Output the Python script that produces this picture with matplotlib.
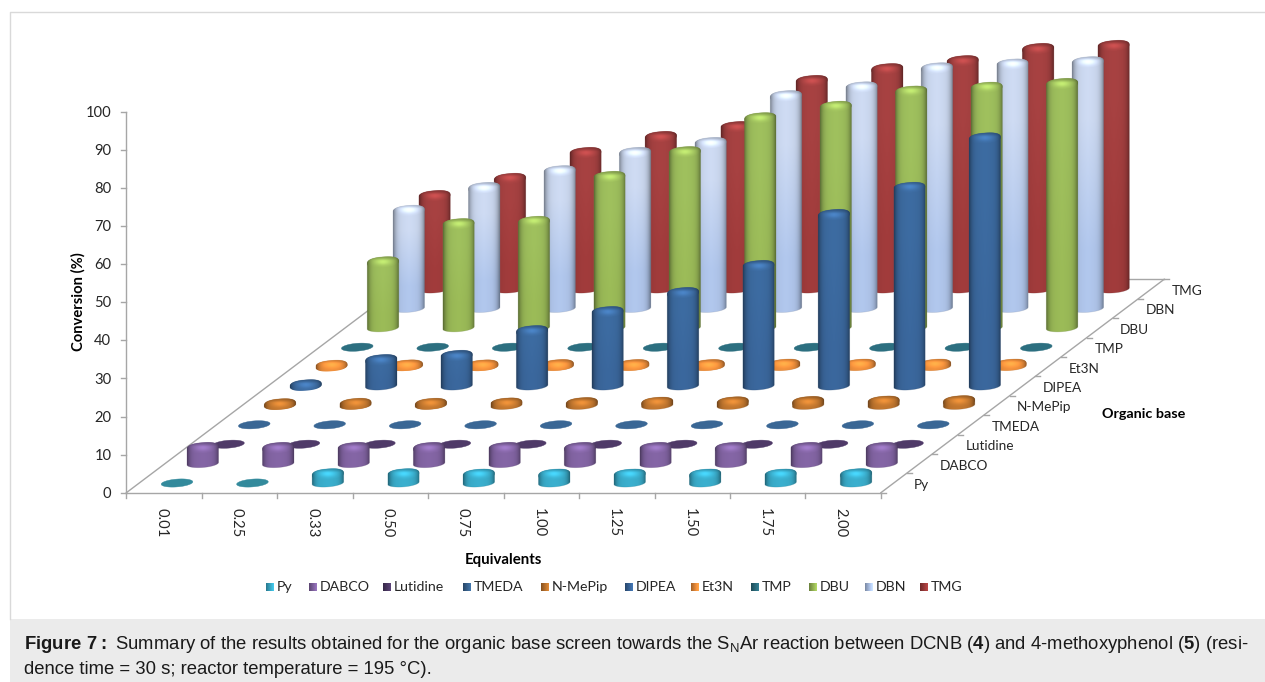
import numpy as np

import matplotlib
matplotlib.use("Agg")
import matplotlib.pyplot as plt
from matplotlib.colors import to_rgb
from matplotlib.patches import Polygon, Rectangle

# conversion (%) per organic base
EQUIVALENTS = ["0.01", "0.25", "0.33", "0.50", "0.75", "1.00", "1.25", "1.50", "1.75", "2.00"]
BASES = ["Py", "DABCO", "Lutidine", "TMEDA", "N-MePip", "DIPEA", "Et3N", "TMP", "DBU", "DBN", "TMG"]

PY = [0.0, 0.0, 2.3, 2.3, 2.2, 2.2, 2.2, 2.2, 2.2, 2.3]
DABCO = [4.1, 4.1, 4.1, 4.1, 4.1, 4.1, 4.1, 4.1, 4.1, 4.1]
LUTIDINE = [0.0, 0.0, 0.0, 0.0, 0.0, 0.0, 0.0, 0.0, 0.0, 0.0]
TMEDA = [0.0, 0.0, 0.0, 0.0, 0.0, 0.0, 0.0, 0.0, 0.0, 0.0]
N_MEPIP = [0.3, 0.4, 0.4, 0.5, 0.6, 0.7, 0.8, 0.9, 1.0, 1.1]
DIPEA = [0.2, 6.8, 7.9, 14.4, 19.4, 24.4, 31.5, 44.9, 52.0, 65.0]
ET3N = [0.2, 0.3, 0.3, 0.4, 0.4, 0.4, 0.5, 0.5, 0.5, 0.5]
TMP = [0.0, 0.0, 0.0, 0.0, 0.0, 0.0, 0.0, 0.0, 0.0, 0.0]
DBU = [17.2, 27.2, 27.8, 39.6, 46.1, 55.0, 58.0, 62.0, 63.0, 64.0]
DBN = [25.6, 31.6, 36.0, 40.8, 43.4, 55.7, 58.0, 63.0, 64.0, 64.6]
TMG = [24.4, 28.9, 35.7, 39.9, 42.5, 54.6, 57.7, 59.8, 63.0, 63.8]
SERIES = [PY, DABCO, LUTIDINE, TMEDA, N_MEPIP, DIPEA, ET3N, TMP, DBU, DBN, TMG]

COLORS_TOP = ["#3bb0cf", "#8566a6", "#4f3a68", "#3a6795", "#c4782f", "#3d6ca2",
              "#f0903c", "#2c6f80", "#a0c15e", "#cfdcf4", "#a84242"]
COLORS_BASE = ["#3bb0cf", "#8566a6", "#4f3a68", "#3a6795", "#c4782f", "#3b689e",
               "#f0903c", "#2c6f80", "#9cbc58", "#b2c8ee", "#a23c3c"]
FLAT_COLORS = ["#338a9c", "#8566a6", "#4f3a68", "#3a6795", "#b0652a", "#33608f",
               "#f0903c", "#2c6f80", "#9cbc58", "#b2c8ee", "#a23c3c"]

Y_TICKS = [0, 10, 20, 30, 40, 50, 60, 70, 80, 90, 100]
LEGEND_TEXT_X = [277, 320, 393.5, 474, 552, 635.5, 701.6, 762, 820, 876, 931]

# oblique projection of (equivalent index, base index, value) to picture pixels
ORIGIN_X, ORIGIN_Y = 177.0, 483.0
STEP_I = 75.45
STEP_J_X, STEP_J_Y = 25.75, -19.4
PX_PER_UNIT = 3.81
RX, RY_BASE, RY_TOP, TILT = 15.8, 3.9, 5.4, 1.2

AXIS_GREY = "#a6a6a6"
TEXT_GREY = "#262626"
FONT = "Lato"

plt.rcParams["font.family"] = FONT
plt.rcParams["mathtext.fontset"] = "custom"
plt.rcParams["mathtext.rm"] = "Liberation Sans"
plt.rcParams["mathtext.bf"] = "Liberation Sans:bold"


def project(i, j, v=0.0):
    x = ORIGIN_X + STEP_I * i + STEP_J_X * j
    y = ORIGIN_Y + STEP_J_Y * j - PX_PER_UNIT * v
    return x, y


def base_xy(cx, cy, t):
    return np.column_stack([cx + RX * np.cos(t), cy + RY_BASE * np.sin(t) - TILT * np.cos(t)])


def top_xy(cx, cy, t):
    # squarer than an ellipse, the bevel rounds the shoulders of the bars
    c, s = np.cos(t), np.sin(t)
    x = np.sign(c) * np.abs(c) ** 0.82
    y = np.sign(s) * np.abs(s) ** 0.82
    return np.column_stack([cx + RX * x, cy + RY_TOP * y - TILT * x])


def body_shade(u):
    return 1 - 0.38 * np.abs(u) ** 5 - 0.05 * np.abs(u)


def _clipped_image(ax, rgb, extent, pts, z, edge=None):
    im = ax.imshow(rgb, extent=extent, aspect="auto", interpolation="bilinear", zorder=z)
    patch = Polygon(pts, closed=True, transform=ax.transData)
    im.set_clip_path(patch)
    if edge is not None:
        ax.add_patch(Polygon(pts, closed=True, facecolor="none", edgecolor=edge,
                             linewidth=0.5, alpha=0.3, zorder=z))


def draw_cylinder(ax, i, j, v, top_color, base_color, z):
    cx, base_y = project(i, j)
    _, top_y = project(i, j, v)
    top_rgb = np.array(to_rgb(top_color))
    base_rgb = np.array(to_rgb(base_color))

    t_front = np.linspace(np.pi, 0, 40)
    t_back = np.linspace(0, -np.pi, 60)
    body = np.vstack([base_xy(cx, base_y, t_front), top_xy(cx, top_y, t_back)])

    u = np.linspace(-1, 1, 64)
    rows = np.stack([top_rgb, base_rgb])
    img = np.clip(rows[:, None, :] * body_shade(u)[None, :, None], 0, 1)
    # first row of the image is the value end of the bar
    _clipped_image(ax, img, (cx - RX, cx + RX, base_y + RY_BASE + 2, top_y - RY_TOP - 2),
                   body, z, base_rgb * 0.7)

    # cap: dark band at the back, soft highlight in the middle, front melts into the body
    n = 48
    xx, yy = np.meshgrid(np.linspace(-1, 1, n), np.linspace(-1, 1, n))
    glow = 1 + 0.24 * np.exp(-(xx ** 2 / 0.30 + (yy + 0.05) ** 2 / 0.22))
    back = 1 - 0.30 * np.clip((-yy - 0.25) / 0.75, 0, 1)
    cap_shade = body_shade(xx) * glow * back
    cap = np.clip(top_rgb[None, None, :] * cap_shade[:, :, None], 0, 1)
    cap_pts = top_xy(cx, top_y, np.linspace(0, 2 * np.pi, 80))
    _clipped_image(ax, cap, (cx - RX, cx + RX, top_y + RY_TOP + TILT, top_y - RY_TOP - TILT),
                   cap_pts, z + 0.1)


def draw_disc(ax, i, j, color, z):
    cx, cy = project(i, j)
    pts = base_xy(cx, cy, np.linspace(0, 2 * np.pi, 60))
    ax.add_patch(Polygon(pts, closed=True, facecolor=color, edgecolor=color,
                         linewidth=0.3, zorder=z))


def draw_frame(ax):
    n_i, n_j = len(EQUIVALENTS), len(BASES)
    # floor corners sit half a slot outside the first and last bars
    fl = project(-0.5, -0.5)
    fr = project(n_i - 0.5, -0.5)
    br = project(n_i - 0.5, n_j - 0.5)
    bl = project(-0.5, n_j - 0.5)
    for a, b in [(fl, fr), (fr, br), (br, bl), (bl, fl)]:
        ax.plot([a[0], b[0]], [a[1], b[1]], color=AXIS_GREY, lw=1.0, zorder=1)

    # value axis
    y0 = fl[1]
    ax.plot([fl[0], fl[0]], [y0, y0 - 100 * PX_PER_UNIT], color=AXIS_GREY, lw=1.0, zorder=1)
    for tick in Y_TICKS:
        y = y0 - tick * PX_PER_UNIT
        ax.plot([fl[0] - 5.5, fl[0]], [y, y], color=AXIS_GREY, lw=1.0, zorder=1)
        ax.text(fl[0] - 15, y + 1.2, str(tick), ha="right", va="center",
                fontsize=10.6, color=TEXT_GREY)

    # equivalents axis
    for i in range(n_i + 1):
        x, y = project(i - 0.5, -0.5)
        ax.plot([x, x], [y, y + 5], color=AXIS_GREY, lw=1.0, zorder=1)
    for i, label in enumerate(EQUIVALENTS):
        x, y = project(i, -0.5)
        ax.text(x - 3, y + 15, label, rotation=270, ha="center", va="top",
                fontsize=10.6, color=TEXT_GREY)

    # base axis
    for j in range(n_j + 1):
        x, y = project(n_i - 0.5, j - 0.5)
        ax.plot([x, x + 5], [y, y], color=AXIS_GREY, lw=1.0, zorder=1)
    for j, label in enumerate(BASES):
        x, y = project(n_i - 1, j)
        ax.text(x + 58, y + 2, label, ha="left", va="center", fontsize=9.8, color=TEXT_GREY)


def draw_legend(ax):
    y = 587
    for name, text_x, base in zip(BASES, LEGEND_TEXT_X, COLORS_BASE):
        u = np.linspace(0, 1, 9)
        img = np.array(to_rgb(base))[None, None, :] * (0.7 + 0.45 * u)[None, :, None]
        ax.imshow(np.clip(img, 0, 1), extent=(text_x - 11, text_x - 3, y + 4, y - 4),
                  aspect="auto", interpolation="bilinear", zorder=5)
        ax.text(text_x, y, name, ha="left", va="center", fontsize=10.2, color=TEXT_GREY)


def main():
    fig = plt.figure(figsize=(12.65, 6.82), dpi=100)
    ax = fig.add_axes([0, 0, 1, 1])

    # page furniture around the chart
    ax.add_patch(Rectangle((10, 619), 1255, 63, facecolor="#ebebeb", edgecolor="none", zorder=0))
    ax.plot([10, 10, 1265], [619, 12, 12], color="#d9d9d9", lw=1.0, zorder=0.5)

    draw_frame(ax)

    z = 2.0
    for j in range(len(BASES) - 1, -1, -1):
        for i, v in enumerate(SERIES[j]):
            if v < 0.15:
                draw_disc(ax, i, j, FLAT_COLORS[j], z)
            else:
                draw_cylinder(ax, i, j, v, COLORS_TOP[j], COLORS_BASE[j], z)
            z += 0.2

    draw_legend(ax)

    ax.text(78, 302, "Conversion (%)", rotation=90, ha="center", va="center",
            fontsize=10.6, fontweight="bold", color="black")
    ax.text(503, 560, "Equivalents", ha="center", va="center",
            fontsize=10.8, fontweight="bold", color="black")
    ax.text(1102, 414, "Organic base", ha="left", va="center",
            fontsize=10.4, fontweight="bold", color="black")

    ax.text(24, 644.5, r"$\mathbf{Figure\ 7:}$ Summary of the results obtained for the organic base "
            r"screen towards the S$_{\mathrm{N}}$Ar reaction between DCNB ($\mathbf{4}$) and "
            r"4-methoxyphenol ($\mathbf{5}$) (resi-",
            ha="left", va="center", fontsize=13.35, family="Liberation Sans", color="#1a1a1a")
    ax.text(24, 669.5, "dence time = 30 s; reactor temperature = 195 °C).",
            ha="left", va="center", fontsize=13.35, family="Liberation Sans", color="#1a1a1a")

    ax.set_xlim(0, 1265)
    ax.set_ylim(682, 0)
    ax.axis("off")
    fig.savefig("out.png", dpi=100)
    plt.close(fig)


if __name__ == "__main__":
    main()
